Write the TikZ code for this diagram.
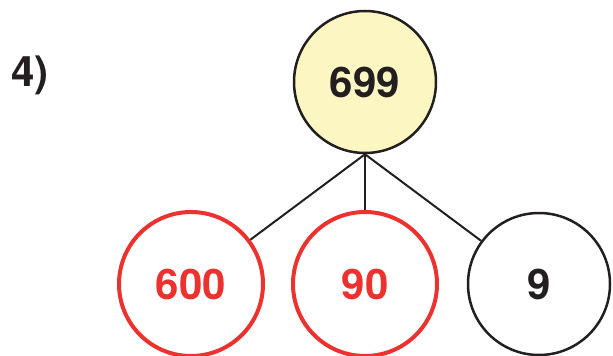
\documentclass[tikz,border=0pt]{standalone}
\usepackage{fontspec}
\setmainfont{TeX Gyre Heros}
\definecolor{ink}{RGB}{35,31,32}
\definecolor{numred}{RGB}{236,50,46}
\definecolor{numfill}{RGB}{252,247,194}
\begin{document}
\begin{tikzpicture}[x=1pt, y=-1pt, ink,
    num/.style={circle, draw=ink, line width=2.5pt, minimum size=142pt, inner sep=0pt,
      font=\fontsize{42}{42}\selectfont\bfseries},
    part/.style={num, draw=numred, text=numred, line width=4pt, minimum size=144pt}]
    \useasboundingbox (0,0) rectangle (613,356);
    \node[anchor=base west, inner sep=0pt, font=\fontsize{42}{42}\selectfont\bfseries] (qnum) at (11,86) {4)};
    % whole number and its parts
    \node[num, fill=numfill] (whole) at (365,82) {699};
    \node[part] (hundreds) at (191,284) {600};
    \node[part] (tens) at (365,284) {90};
    \node[num] (ones) at (539,284) {9};
    \draw[line width=2pt] (whole.south) -- (hundreds);
    \draw[line width=2pt] (whole.south) -- (tens);
    \draw[line width=2pt] (whole.south) -- (ones);
\end{tikzpicture}
\end{document}
